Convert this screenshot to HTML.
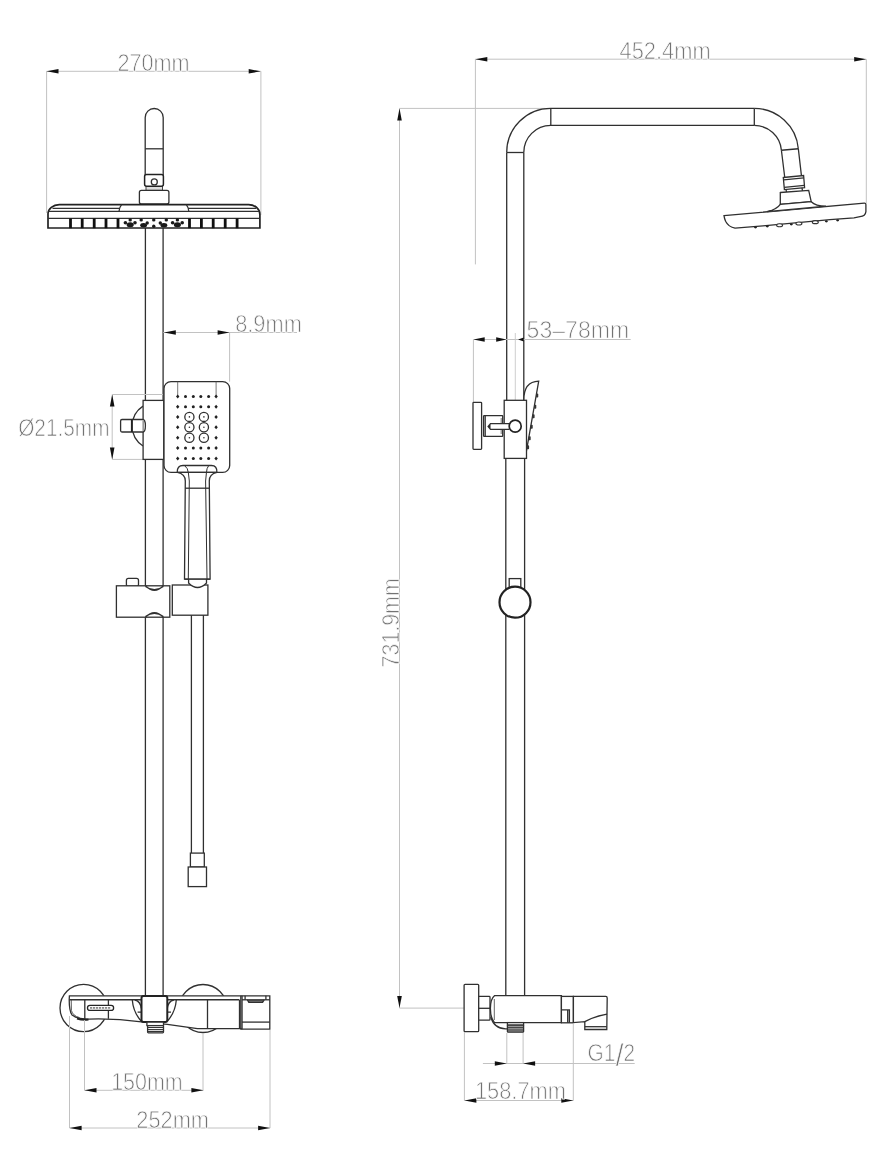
<!DOCTYPE html>
<html><head><meta charset="utf-8"><title>Shower system dimensions</title>
<style>html,body{margin:0;padding:0;background:#fff;} svg{display:block;}</style></head>
<body><svg width="896" height="1152" viewBox="0 0 896 1152" shape-rendering="geometricPrecision">
<rect width="896" height="1152" fill="#fff"/>
<line x1="46.6" y1="71.3" x2="46.6" y2="213" stroke="#c2c2c2" stroke-width="1" fill="none"/>
<line x1="260.9" y1="71.3" x2="260.9" y2="215" stroke="#c2c2c2" stroke-width="1" fill="none"/>
<line x1="46.5" y1="71.3" x2="260.7" y2="71.3" stroke="#c2c2c2" stroke-width="1" fill="none"/>
<polygon points="46.50,71.30 58.50,69.00 58.50,73.60" fill="#111"/>
<polygon points="260.70,71.30 248.70,69.00 248.70,73.60" fill="#111"/>
<text x="117.4" y="70.5" textLength="72.2" lengthAdjust="spacingAndGlyphs" style="filter:grayscale(1)" font-family="Liberation Sans, sans-serif" font-size="23" fill="#737373" stroke="#fff" stroke-width="0.75">270mm</text>
<line x1="145.4" y1="228" x2="145.4" y2="996" stroke="#303030" stroke-width="1.3" fill="none"/>
<line x1="163.1" y1="228" x2="163.1" y2="996" stroke="#303030" stroke-width="1.3" fill="none"/>
<path d="M145.2,175 L145.2,117.5 A9,9 0 0 1 163.2,117.5 L163.2,175" stroke="#303030" stroke-width="1.3" fill="#fff"/>
<line x1="145.2" y1="148.8" x2="163.2" y2="148.8" stroke="#303030" stroke-width="1.3" fill="none"/>
<rect x="146" y="185.5" width="16.5" height="4.9" rx="0" stroke="#444" stroke-width="1" fill="#ddd"/>
<rect x="144.6" y="174.6" width="18.8" height="11.6" rx="2" stroke="#222" stroke-width="1.5" fill="#fff"/>
<circle cx="154.3" cy="181.9" r="3" stroke="#303030" stroke-width="1.3" fill="#fff"/>
<rect x="139.4" y="190.3" width="29.5" height="13.7" rx="2" stroke="#303030" stroke-width="1.3" fill="#fff"/>
<path d="M48,228 L48,213.8 A11.3,9.2 0 0 1 59.3,204.6 L248.6,204.6 A11.3,9.8 0 0 1 259.9,214.4 L259.9,228 Z" stroke="#222" stroke-width="1.7" fill="#fff"/>
<path d="M52.5,208.3 L119.6,208.3 M121.6,204.6 Q119.5,207 119,211.3 M186.3,204.6 Q188.4,207 188.8,211.3 M188.5,208.3 L256.3,208.3" stroke="#303030" stroke-width="1.3" fill="none"/>
<line x1="48.6" y1="211.4" x2="259.5" y2="211.4" stroke="#303030" stroke-width="1.3" fill="none"/>
<line x1="48" y1="218.3" x2="259.9" y2="218.3" stroke="#303030" stroke-width="1.3" fill="none"/>
<rect x="69.1" y="218.5" width="2.8" height="9.7" fill="#111"/>
<rect x="80.8" y="218.5" width="2.8" height="9.7" fill="#111"/>
<rect x="92.8" y="218.5" width="2.8" height="9.7" fill="#111"/>
<rect x="104.6" y="218.5" width="2.8" height="9.7" fill="#111"/>
<rect x="116.6" y="218.5" width="2.8" height="9.7" fill="#111"/>
<rect x="188.1" y="218.5" width="2.8" height="9.7" fill="#111"/>
<rect x="200.0" y="218.5" width="2.8" height="9.7" fill="#111"/>
<rect x="211.79999999999998" y="218.5" width="2.8" height="9.7" fill="#111"/>
<rect x="223.79999999999998" y="218.5" width="2.8" height="9.7" fill="#111"/>
<rect x="235.7" y="218.5" width="2.8" height="9.7" fill="#111"/>
<circle cx="130.2" cy="219.9" r="1.7" fill="#1a1a1a" stroke="none"/>
<circle cx="125.39999999999999" cy="222.8" r="1.8" fill="#1a1a1a" stroke="none"/>
<circle cx="135.0" cy="222.8" r="1.8" fill="#1a1a1a" stroke="none"/>
<ellipse cx="130.2" cy="224.7" rx="3.6" ry="2.5" fill="#1a1a1a" stroke="none"/>
<circle cx="177.4" cy="219.9" r="1.7" fill="#1a1a1a" stroke="none"/>
<circle cx="172.6" cy="222.8" r="1.8" fill="#1a1a1a" stroke="none"/>
<circle cx="182.20000000000002" cy="222.8" r="1.8" fill="#1a1a1a" stroke="none"/>
<ellipse cx="177.4" cy="224.7" rx="3.6" ry="2.5" fill="#1a1a1a" stroke="none"/>
<circle cx="141.2" cy="219.9" r="1.7" fill="#1a1a1a" stroke="none"/>
<circle cx="147.2" cy="223" r="1.7" fill="#1a1a1a" stroke="none"/>
<ellipse cx="143.6" cy="225.2" rx="3.4" ry="2.2" fill="#1a1a1a" stroke="none"/>
<circle cx="166.3" cy="219.9" r="1.7" fill="#1a1a1a" stroke="none"/>
<circle cx="160.3" cy="223" r="1.7" fill="#1a1a1a" stroke="none"/>
<ellipse cx="163.9" cy="225.2" rx="3.4" ry="2.2" fill="#1a1a1a" stroke="none"/>
<circle cx="153.75" cy="219.9" r="1.7" fill="#1a1a1a" stroke="none"/>
<circle cx="153.75" cy="226.2" r="1.7" fill="#1a1a1a" stroke="none"/>
<line x1="163.3" y1="332.5" x2="297" y2="332.5" stroke="#c2c2c2" stroke-width="1" fill="none"/>
<polygon points="163.80,332.50 175.80,330.20 175.80,334.80" fill="#111"/>
<polygon points="229.60,332.50 217.60,330.20 217.60,334.80" fill="#111"/>
<line x1="229.6" y1="332.5" x2="229.6" y2="381.6" stroke="#c2c2c2" stroke-width="1" fill="none"/>
<text x="235.2" y="331.6" textLength="66.6" lengthAdjust="spacingAndGlyphs" style="filter:grayscale(1)" font-family="Liberation Sans, sans-serif" font-size="23" fill="#737373" stroke="#fff" stroke-width="0.75">8.9mm</text>
<line x1="112.2" y1="394.5" x2="112.2" y2="459.4" stroke="#c2c2c2" stroke-width="1" fill="none"/>
<polygon points="112.20,394.50 109.90,406.50 114.50,406.50" fill="#111"/>
<polygon points="112.20,459.40 109.90,447.40 114.50,447.40" fill="#111"/>
<line x1="112.2" y1="394.5" x2="163" y2="394.5" stroke="#c2c2c2" stroke-width="1" fill="none"/>
<line x1="112.2" y1="459.4" x2="143" y2="459.4" stroke="#c2c2c2" stroke-width="1" fill="none"/>
<text x="18.2" y="436.2" textLength="91.3" lengthAdjust="spacingAndGlyphs" style="filter:grayscale(1)" font-family="Liberation Sans, sans-serif" font-size="23" fill="#737373" stroke="#fff" stroke-width="0.75">Ø21.5mm</text>
<path d="M143,406.1 A23.8,23.8 0 0 0 143,446" stroke="#303030" stroke-width="1.3" fill="#fff"/>
<rect x="143.1" y="400.4" width="20.7" height="59.0" rx="0" stroke="#303030" stroke-width="1.3" fill="#fff"/>
<path d="M122,419.5 L142.8,419.5 Q145.4,419.5 145.4,425.75 Q145.4,432 142.8,432 L122,432 Q120.6,432 120.6,430.5 L120.6,421 Q120.6,419.5 122,419.5 Z" stroke="#303030" stroke-width="1.3" fill="#fff"/>
<rect x="130.9" y="419.5" width="2" height="12.5" fill="#222"/>
<line x1="143.2" y1="420.5" x2="143.2" y2="431" stroke="#999" stroke-width="1.6"/>
<rect x="164" y="381.6" width="65.7" height="90.8" rx="7" stroke="#303030" stroke-width="1.3" fill="#fff"/>
<line x1="177.7" y1="381.6" x2="177.7" y2="396.4" stroke="#555" stroke-width="0.8"/>
<line x1="216.1" y1="381.6" x2="216.1" y2="396.4" stroke="#555" stroke-width="0.8"/>
<path d="M177.7,394.4 L179.39999999999998,396.4 L177.7,398.4 L176.0,396.4 Z" fill="#222"/>
<circle cx="185.5" cy="396.4" r="1.5" fill="#222" stroke="none"/>
<circle cx="193.3" cy="396.4" r="1.5" fill="#222" stroke="none"/>
<circle cx="200.8" cy="396.4" r="1.5" fill="#222" stroke="none"/>
<circle cx="208.6" cy="396.4" r="1.5" fill="#222" stroke="none"/>
<path d="M216.1,394.4 L217.79999999999998,396.4 L216.1,398.4 L214.4,396.4 Z" fill="#222"/>
<path d="M177.7,404.7 L179.39999999999998,406.7 L177.7,408.7 L176.0,406.7 Z" fill="#222"/>
<circle cx="185.5" cy="406.7" r="1.5" fill="#222" stroke="none"/>
<circle cx="193.3" cy="406.7" r="1.5" fill="#222" stroke="none"/>
<circle cx="200.8" cy="406.7" r="1.5" fill="#222" stroke="none"/>
<circle cx="208.6" cy="406.7" r="1.5" fill="#222" stroke="none"/>
<path d="M216.1,404.7 L217.79999999999998,406.7 L216.1,408.7 L214.4,406.7 Z" fill="#222"/>
<path d="M177.7,414.9 L179.39999999999998,416.9 L177.7,418.9 L176.0,416.9 Z" fill="#222"/>
<path d="M216.1,414.9 L217.79999999999998,416.9 L216.1,418.9 L214.4,416.9 Z" fill="#222"/>
<path d="M177.7,425.3 L179.39999999999998,427.3 L177.7,429.3 L176.0,427.3 Z" fill="#222"/>
<path d="M216.1,425.3 L217.79999999999998,427.3 L216.1,429.3 L214.4,427.3 Z" fill="#222"/>
<path d="M177.7,435.8 L179.39999999999998,437.8 L177.7,439.8 L176.0,437.8 Z" fill="#222"/>
<path d="M216.1,435.8 L217.79999999999998,437.8 L216.1,439.8 L214.4,437.8 Z" fill="#222"/>
<path d="M177.7,446 L179.39999999999998,448 L177.7,450 L176.0,448 Z" fill="#222"/>
<circle cx="185.5" cy="448" r="1.5" fill="#222" stroke="none"/>
<circle cx="193.3" cy="448" r="1.5" fill="#222" stroke="none"/>
<circle cx="200.8" cy="448" r="1.5" fill="#222" stroke="none"/>
<circle cx="208.6" cy="448" r="1.5" fill="#222" stroke="none"/>
<path d="M216.1,446 L217.79999999999998,448 L216.1,450 L214.4,448 Z" fill="#222"/>
<path d="M177.7,456.6 L179.39999999999998,458.6 L177.7,460.6 L176.0,458.6 Z" fill="#222"/>
<circle cx="185.5" cy="458.6" r="1.5" fill="#222" stroke="none"/>
<circle cx="193.3" cy="458.6" r="1.5" fill="#222" stroke="none"/>
<circle cx="200.8" cy="458.6" r="1.5" fill="#222" stroke="none"/>
<circle cx="208.6" cy="458.6" r="1.5" fill="#222" stroke="none"/>
<path d="M216.1,456.6 L217.79999999999998,458.6 L216.1,460.6 L214.4,458.6 Z" fill="#222"/>
<circle cx="189.4" cy="416.9" r="4.6" stroke="#303030" stroke-width="1.3" fill="none"/>
<circle cx="189.4" cy="416.9" r="0.8" fill="#333" stroke="none"/>
<circle cx="203.9" cy="416.9" r="4.6" stroke="#303030" stroke-width="1.3" fill="none"/>
<circle cx="203.9" cy="416.9" r="0.8" fill="#333" stroke="none"/>
<circle cx="189.4" cy="427.3" r="4.6" stroke="#303030" stroke-width="1.3" fill="none"/>
<circle cx="189.4" cy="427.3" r="0.8" fill="#333" stroke="none"/>
<circle cx="203.9" cy="427.3" r="4.6" stroke="#303030" stroke-width="1.3" fill="none"/>
<circle cx="203.9" cy="427.3" r="0.8" fill="#333" stroke="none"/>
<circle cx="189.4" cy="437.8" r="4.6" stroke="#303030" stroke-width="1.3" fill="none"/>
<circle cx="189.4" cy="437.8" r="0.8" fill="#333" stroke="none"/>
<circle cx="203.9" cy="437.8" r="4.6" stroke="#303030" stroke-width="1.3" fill="none"/>
<circle cx="203.9" cy="437.8" r="0.8" fill="#333" stroke="none"/>
<path d="M177.5,472.4 Q185.3,474 185.3,481 L184.5,579.2 L210.1,579.2 L209.3,481 Q209.3,474 216.9,472.4" stroke="#303030" stroke-width="1.3" fill="#fff"/>
<path d="M177.2,472.4 Q177,465.5 183,465.5 L211.5,465.5 Q217.2,465.5 216.9,472.4" stroke="#303030" stroke-width="1.3" fill="none"/>
<path d="M184.6,465.6 Q188,468 188.4,473 L189.3,481 L188.3,579 M208.7,465.6 Q206.6,468 206.4,473 L205.6,481 L207,579" stroke="#303030" stroke-width="1" fill="none"/>
<line x1="185.2" y1="488.2" x2="209.4" y2="488.2" stroke="#303030" stroke-width="1.3" fill="none"/>
<line x1="177.5" y1="472.4" x2="216.9" y2="472.4" stroke="#303030" stroke-width="1.3" fill="none"/>
<rect x="126.4" y="578.4" width="12.1" height="8.1" rx="2" stroke="#303030" stroke-width="1.3" fill="#fff"/>
<rect x="116.4" y="585.8" width="53.4" height="31.4" rx="0" stroke="#303030" stroke-width="1.3" fill="#fff"/>
<rect x="172.3" y="585" width="35.6" height="30.2" rx="0" stroke="#303030" stroke-width="1.3" fill="#fff"/>
<path d="M188.6,579.2 L188.6,583 Q197.5,592 206.5,583 L206.5,579.2" stroke="#303030" stroke-width="1.3" fill="#fff"/>
<line x1="184.5" y1="579.2" x2="210.1" y2="579.2" stroke="#303030" stroke-width="1.3" fill="none"/>
<path d="M145.5,585.8 Q154.4,595 163.3,585.8 M145.5,586.5 Q154.4,593 163.3,586.5" stroke="#303030" stroke-width="1.3" fill="none"/>
<path d="M145.5,617.2 Q154.4,608 163.3,617.2 M145.5,616.5 Q154.4,610 163.3,616.5" stroke="#303030" stroke-width="1.3" fill="none"/>
<line x1="191.4" y1="615.2" x2="191.4" y2="853.1" stroke="#303030" stroke-width="1.3" fill="none"/>
<line x1="203.4" y1="615.2" x2="203.4" y2="853.1" stroke="#303030" stroke-width="1.3" fill="none"/>
<rect x="190.4" y="853.1" width="13.9" height="13.9" rx="0" stroke="#303030" stroke-width="1.3" fill="#fff"/>
<rect x="188.2" y="867" width="18.3" height="19.6" rx="0" stroke="#303030" stroke-width="1.3" fill="#fff"/>
<circle cx="83.6" cy="1008" r="23.6" stroke="#303030" stroke-width="1.3" fill="#fff"/>
<circle cx="203" cy="1008.5" r="24" stroke="#303030" stroke-width="1.3" fill="#fff"/>
<path d="M69.4,995.8 L269.8,995.8 L269.8,1029.2 L241,1029.2 L241,1028.6 L197.5,1028.6 L167.3,1024.4 L141.5,1021.8 Q115,1018.3 88.8,1019.1 Q78,1019.5 72,1015 Q69.2,1011 69.2,999.4 Z" stroke="#303030" stroke-width="1.3" fill="#fff"/>
<path d="M71.2,999.6 L71.4,1010.5 Q72.8,1015.8 79.5,1017.6" stroke="#444" stroke-width="0.9" fill="none"/>
<path d="M77,1018.6 Q82,1020.2 88.5,1019.6" stroke="#222" stroke-width="2" fill="none"/>
<line x1="69.2" y1="999.8" x2="141.5" y2="999.8" stroke="#303030" stroke-width="1.5"/>
<line x1="167.3" y1="999.8" x2="239.3" y2="999.8" stroke="#303030" stroke-width="1.5"/>
<line x1="84.8" y1="999.8" x2="84.8" y2="1019.2" stroke="#303030" stroke-width="1.3" fill="none"/>
<line x1="108.4" y1="999.8" x2="108.4" y2="1018.8" stroke="#303030" stroke-width="1.3" fill="none"/>
<rect x="87.5" y="1005.3" width="26.1" height="5.1" rx="2.5" stroke="#252525" stroke-width="1.3" fill="#fff"/>
<line x1="90" y1="1007.9" x2="111" y2="1007.9" stroke="#888" stroke-width="1.8" stroke-dasharray="2.2,0.8"/>
<line x1="207.5" y1="999.8" x2="207.5" y2="1028.6" stroke="#303030" stroke-width="1.3" fill="none"/>
<line x1="239.5" y1="999.8" x2="239.5" y2="1028.6" stroke="#303030" stroke-width="1.3" fill="none"/>
<line x1="240.8" y1="995.8" x2="240.8" y2="1029.2" stroke="#303030" stroke-width="1.3" fill="none"/>
<line x1="242.05" y1="995.8" x2="242.05" y2="1029.2" stroke="#303030" stroke-width="1.3" fill="none"/>
<line x1="242" y1="1022.1" x2="269.8" y2="1022.1" stroke="#303030" stroke-width="1.3" fill="none"/>
<path d="M247.3,999.8 L248.8,1002.4 L262.6,1002.4 L264.2,999.8 M248.5,1000.9 L262.9,1000.9" stroke="#303030" stroke-width="1.3" fill="none"/>
<line x1="242" y1="999.8" x2="269.8" y2="999.8" stroke="#303030" stroke-width="1.3" fill="none"/>
<line x1="245.1" y1="995.8" x2="245.1" y2="999.8" stroke="#303030" stroke-width="1.3" fill="none"/>
<line x1="265.9" y1="995.8" x2="265.9" y2="999.8" stroke="#303030" stroke-width="1.3" fill="none"/>
<path d="M132.3,1000 Q133.2,1012 141.1,1021 M134.8,1000 Q140.3,1001 141.3,1008.5 M137.6,1012.1 L141.3,1012.1" stroke="#303030" stroke-width="1.3" fill="none"/>
<path d="M176.3,1000 Q175.4,1012 167.5,1021 M173.8,1000 Q168.3,1001 167.3,1008.5 M171,1012.1 L167.3,1012.1" stroke="#303030" stroke-width="1.3" fill="none"/>
<rect x="141.5" y="995.9" width="25.8" height="26.2" rx="2" stroke="#222" stroke-width="2" fill="#fff"/>
<rect x="146.9" y="1022.1" width="16.6" height="3.5" rx="0" stroke="#303030" stroke-width="1.3" fill="#fff"/>
<rect x="147.6" y="1025.6" width="15.9" height="7.2" rx="0.8" stroke="#303030" stroke-width="1.3" fill="#fff"/>
<line x1="147.6" y1="1027.5" x2="163.5" y2="1027.5" stroke="#333" stroke-width="1.1"/>
<line x1="147.6" y1="1029.6" x2="163.5" y2="1029.6" stroke="#333" stroke-width="1.1"/>
<line x1="147.6" y1="1031.5" x2="163.5" y2="1031.5" stroke="#333" stroke-width="1.1"/>
<line x1="69.5" y1="1016" x2="69.5" y2="1128" stroke="#c2c2c2" stroke-width="1" fill="none"/>
<line x1="84.5" y1="1020" x2="84.5" y2="1090.3" stroke="#c2c2c2" stroke-width="1" fill="none"/>
<line x1="203" y1="1033" x2="203" y2="1090.3" stroke="#c2c2c2" stroke-width="1" fill="none"/>
<line x1="270" y1="1030" x2="270" y2="1128" stroke="#c2c2c2" stroke-width="1" fill="none"/>
<line x1="84.5" y1="1090.3" x2="203.4" y2="1090.3" stroke="#c2c2c2" stroke-width="1" fill="none"/>
<polygon points="84.50,1090.30 96.50,1088.00 96.50,1092.60" fill="#111"/>
<polygon points="203.40,1090.30 191.40,1088.00 191.40,1092.60" fill="#111"/>
<text x="111.2" y="1090" textLength="71.5" lengthAdjust="spacingAndGlyphs" style="filter:grayscale(1)" font-family="Liberation Sans, sans-serif" font-size="23" fill="#737373" stroke="#fff" stroke-width="0.75">150mm</text>
<line x1="69.6" y1="1128" x2="270.1" y2="1128" stroke="#c2c2c2" stroke-width="1" fill="none"/>
<polygon points="69.60,1128.00 81.60,1125.70 81.60,1130.30" fill="#111"/>
<polygon points="270.10,1128.00 258.10,1125.70 258.10,1130.30" fill="#111"/>
<text x="136.3" y="1128" textLength="72.7" lengthAdjust="spacingAndGlyphs" style="filter:grayscale(1)" font-family="Liberation Sans, sans-serif" font-size="23" fill="#737373" stroke="#fff" stroke-width="0.75">252mm</text>
<line x1="475.3" y1="59.2" x2="866.2" y2="59.2" stroke="#c2c2c2" stroke-width="1" fill="none"/>
<polygon points="475.30,59.20 487.30,56.90 487.30,61.50" fill="#111"/>
<polygon points="866.20,59.20 854.20,56.90 854.20,61.50" fill="#111"/>
<line x1="475.4" y1="59.2" x2="475.4" y2="264.4" stroke="#c2c2c2" stroke-width="1" fill="none"/>
<line x1="866.3" y1="59.2" x2="866.3" y2="203.5" stroke="#c2c2c2" stroke-width="1" fill="none"/>
<text x="619.5" y="58.5" textLength="91.1" lengthAdjust="spacingAndGlyphs" style="filter:grayscale(1)" font-family="Liberation Sans, sans-serif" font-size="23" fill="#737373" stroke="#fff" stroke-width="0.75">452.4mm</text>
<line x1="399.5" y1="108.4" x2="399.5" y2="1008.1" stroke="#c2c2c2" stroke-width="1" fill="none"/>
<polygon points="399.50,108.40 397.20,120.40 401.80,120.40" fill="#111"/>
<polygon points="399.50,1008.10 397.20,996.10 401.80,996.10" fill="#111"/>
<line x1="399.5" y1="108.4" x2="545" y2="108.4" stroke="#c2c2c2" stroke-width="1" fill="none"/>
<line x1="399.5" y1="1008.1" x2="463.9" y2="1008.1" stroke="#c2c2c2" stroke-width="1" fill="none"/>
<text x="0" y="0" transform="translate(398.8,667.4) rotate(-90)" textLength="89.1" lengthAdjust="spacingAndGlyphs" style="filter:grayscale(1)" font-family="Liberation Sans, sans-serif" font-size="23" fill="#737373" stroke="#fff" stroke-width="0.75">731.9mm</text>
<line x1="506.7" y1="152.5" x2="506.7" y2="401" stroke="#303030" stroke-width="1.3" fill="none"/>
<line x1="523.8" y1="152.5" x2="523.8" y2="401" stroke="#303030" stroke-width="1.3" fill="none"/>
<line x1="505.8" y1="458" x2="505.8" y2="995.6" stroke="#303030" stroke-width="1.3" fill="none"/>
<line x1="524.6" y1="458" x2="524.6" y2="995.6" stroke="#303030" stroke-width="1.3" fill="none"/>
<path d="M506.7,152.5 A44.1,44.1 0 0 1 550.8,108.4 L754.3,108.4" stroke="#303030" stroke-width="1.3" fill="none"/>
<path d="M523.8,152.5 A27,27 0 0 1 550.8,125.4 L754.3,125.4" stroke="#303030" stroke-width="1.3" fill="none"/>
<line x1="506.7" y1="152.5" x2="523.8" y2="152.5" stroke="#303030" stroke-width="1.3" fill="none"/>
<line x1="550.8" y1="108.4" x2="550.8" y2="125.4" stroke="#303030" stroke-width="1.3" fill="none"/>
<line x1="754.3" y1="108.4" x2="754.3" y2="125.4" stroke="#303030" stroke-width="1.3" fill="none"/>
<path d="M754.3,108.4 A44.2,44.2 0 0 1 798.33,148.75" stroke="#303030" stroke-width="1.3" fill="none"/>
<path d="M754.3,125.4 A27.2,27.2 0 0 1 781.40,150.23" stroke="#303030" stroke-width="1.3" fill="none"/>
<line x1="781.4" y1="150.23" x2="798.33" y2="148.75" stroke="#303030" stroke-width="1.3" fill="none"/>
<path d="M781.40,150.23 L784.7,177 M798.33,148.75 L801.4,175.4" stroke="#303030" stroke-width="1.3" fill="none"/>
<path d="M783.3,177.5 L803.6,175.5 L804.6,187.6 L784.4,189.6 Z" stroke="#303030" stroke-width="1.3" fill="#fff"/>
<line x1="783.6" y1="179.8" x2="803.8" y2="177.8" stroke="#303030" stroke-width="1.3" fill="none"/>
<line x1="784.2" y1="187.3" x2="804.4" y2="185.3" stroke="#303030" stroke-width="1.3" fill="none"/>
<path d="M786,189.4 L786.5,192.2 M802,187.8 L802.5,191" stroke="#303030" stroke-width="1.3" fill="none"/>
<path d="M780.3,192.5 L808.7,190.4 L811.2,201.7 L780.3,204.3 Z" stroke="#303030" stroke-width="1.3" fill="#fff"/>
<path d="M724,215.6 L864.3,203.2 Q866,203.1 865.9,205 L865.9,211.6 Q865.4,216.2 860,216.6 L854,217.9 L830,219.6 L763,225.9 L735.1,228.1 Q728.5,227 725.6,221.2 Q724.3,218.2 724,215.6 Z" stroke="#303030" stroke-width="1.3" fill="#fff"/>
<path d="M767,211.7 Q776.5,209.6 780.3,204.3 L811.2,201.7 Q815.5,206 826,206.2 Z" stroke="#303030" stroke-width="1.3" fill="#fff"/>
<ellipse cx="755.5" cy="227.35" rx="1.5" ry="1.1" fill="#222"/>
<ellipse cx="767.3" cy="226.34" rx="1.5" ry="1.1" fill="#222"/>
<ellipse cx="791.3" cy="224.28" rx="1.5" ry="1.1" fill="#222"/>
<ellipse cx="826.4" cy="221.28" rx="1.5" ry="1.1" fill="#222"/>
<ellipse cx="837.6" cy="220.32" rx="1.5" ry="1.1" fill="#222"/>
<ellipse cx="779.6" cy="225.19" rx="3" ry="1.5" fill="#fff" stroke="#333" stroke-width="1.1"/>
<ellipse cx="798.9" cy="223.53" rx="3" ry="1.5" fill="#fff" stroke="#333" stroke-width="1.1"/>
<ellipse cx="815.3" cy="222.13" rx="3" ry="1.5" fill="#fff" stroke="#333" stroke-width="1.1"/>
<line x1="473.4" y1="339.5" x2="630.7" y2="339.5" stroke="#c2c2c2" stroke-width="1" fill="none"/>
<polygon points="473.40,339.50 484.70,337.20 484.70,341.80" fill="#111"/>
<polygon points="506.50,339.50 496.20,337.20 496.20,341.80" fill="#111"/>
<polygon points="518.10,339.50 523.70,337.60 523.70,341.40" fill="#111"/>
<line x1="473.4" y1="339.5" x2="473.4" y2="402.3" stroke="#c2c2c2" stroke-width="1" fill="none"/>
<line x1="515.3" y1="333" x2="515.3" y2="419" stroke="#c8c8c8" stroke-width="0.9"/>
<text x="526.6" y="338.3" textLength="102.6" lengthAdjust="spacingAndGlyphs" style="filter:grayscale(1)" font-family="Liberation Sans, sans-serif" font-size="23" fill="#737373" stroke="#fff" stroke-width="0.75">53–78mm</text>
<path d="M523.9,400 C523.7,388 528.5,381.6 538.7,381.2 L525.3,457.4" stroke="#303030" stroke-width="1.3" fill="#fff"/>
<rect x="536.05" y="393.60" width="2.2" height="4" rx="0.8" fill="#333"/>
<rect x="534.08" y="404.70" width="2.2" height="4" rx="0.8" fill="#333"/>
<rect x="532.40" y="414.20" width="2.2" height="4" rx="0.8" fill="#333"/>
<rect x="530.52" y="424.80" width="2.2" height="4" rx="0.8" fill="#333"/>
<rect x="528.48" y="436.30" width="2.2" height="4" rx="0.8" fill="#333"/>
<rect x="526.89" y="445.30" width="2.2" height="4" rx="0.8" fill="#333"/>
<rect x="504.2" y="400.3" width="22.3" height="58.1" rx="0" stroke="#303030" stroke-width="1.3" fill="#fff"/>
<rect x="473" y="402.3" width="8.6" height="47.0" rx="0.8" stroke="#303030" stroke-width="1.3" fill="#fff"/>
<rect x="483.6" y="415.7" width="19.1" height="20.6" rx="0.6" stroke="#303030" stroke-width="1.3" fill="#fff"/>
<line x1="485.2" y1="415.7" x2="485.2" y2="436.3" stroke="#303030" stroke-width="1.3" fill="none"/>
<line x1="501.2" y1="418" x2="501.2" y2="434" stroke="#555" stroke-width="0.8"/>
<path d="M509.2,423.7 L490.5,423.7 L488.1,426.5 L490.5,429.3 L509.2,429.3" stroke="#303030" stroke-width="1.3" fill="#fff"/>
<path d="M488.1,426.5 L490.5,424.3 L490.5,428.7 Z" fill="#222"/>
<circle cx="515.2" cy="426.2" r="6" stroke="#222" stroke-width="1.7" fill="#fff"/>
<rect x="509.2" y="578.6" width="11.6" height="9.4" rx="0" stroke="#303030" stroke-width="1.3" fill="#fff"/>
<circle cx="515" cy="602.2" r="15.5" stroke="#222" stroke-width="2.2" fill="#fff"/>
<rect x="464.1" y="984.3" width="14.6" height="47.4" rx="1" stroke="#303030" stroke-width="1.3" fill="#fff"/>
<rect x="478.7" y="996.4" width="11.3" height="23.8" rx="0.8" stroke="#303030" stroke-width="1.3" fill="#fff"/>
<line x1="478.7" y1="1008.3" x2="490" y2="1008.3" stroke="#303030" stroke-width="1.3" fill="none"/>
<path d="M490.8,1017 Q494,1028.5 505.6,1028.8 L507.4,1028.8" stroke="#303030" stroke-width="1.3" fill="#fff"/>
<path d="M494.7,995.6 L561.4,995.6 L561.4,1022.6 L494.5,1022.6 Q490.4,1018 490.4,1008.5 Q490.4,999 494.7,995.6 Z" stroke="#303030" stroke-width="1.3" fill="#fff"/>
<line x1="494.3" y1="999" x2="494.3" y2="1020" stroke="#555" stroke-width="0.9"/>
<rect x="507.4" y="1022.6" width="16.2" height="2.6" rx="0" stroke="#303030" stroke-width="1.3" fill="#fff"/>
<rect x="507.4" y="1025.2" width="16.2" height="7.0" rx="0.8" stroke="#303030" stroke-width="1.3" fill="#999"/>
<line x1="507.4" y1="1027.6" x2="523.6" y2="1027.6" stroke="#333" stroke-width="0.9"/>
<line x1="507.4" y1="1030" x2="523.6" y2="1030" stroke="#333" stroke-width="0.9"/>
<rect x="561.4" y="996.4" width="12.0" height="26.4" rx="0" stroke="#303030" stroke-width="1.3" fill="#fff"/>
<path d="M561.4,1009.8 L569.4,1009.8 L569.4,1022.8 M567.7,1010.5 L567.7,1022.8" stroke="#303030" stroke-width="1.3" fill="none"/>
<path d="M573.4,996.4 L605.7,996.4 Q607.2,996.4 607.2,998 L606.8,1029.5 L584.8,1029.5 L584.8,1021.6 L573.4,1022.6 Z" stroke="#303030" stroke-width="1.3" fill="#fff"/>
<path d="M607,1014.1 Q595,1016.2 584.8,1021.6" stroke="#303030" stroke-width="1.3" fill="none"/>
<line x1="584.8" y1="1026.7" x2="606.8" y2="1026.7" stroke="#303030" stroke-width="1.3" fill="none"/>
<line x1="464.4" y1="1032" x2="464.4" y2="1100.5" stroke="#c2c2c2" stroke-width="1" fill="none"/>
<line x1="573.3" y1="1023" x2="573.3" y2="1100.5" stroke="#c2c2c2" stroke-width="1" fill="none"/>
<line x1="506.8" y1="1033" x2="506.8" y2="1063.5" stroke="#c2c2c2" stroke-width="1" fill="none"/>
<line x1="523.1" y1="1033" x2="523.1" y2="1063.5" stroke="#c2c2c2" stroke-width="1" fill="none"/>
<line x1="482.9" y1="1063.5" x2="634.7" y2="1063.5" stroke="#c2c2c2" stroke-width="1" fill="none"/>
<polygon points="506.80,1063.50 494.80,1061.20 494.80,1065.80" fill="#111"/>
<polygon points="523.10,1063.50 535.10,1061.20 535.10,1065.80" fill="#111"/>
<text x="587.6" y="1061.3" textLength="47.5" lengthAdjust="spacingAndGlyphs" style="filter:grayscale(1)" font-family="Liberation Sans, sans-serif" font-size="23" fill="#737373" stroke="#fff" stroke-width="0.75">G1<tspan font-size="31" dy="4.2" dx="0.5">/</tspan><tspan dy="-4.2" dx="0">2</tspan></text>
<line x1="464.4" y1="1100.5" x2="573.3" y2="1100.5" stroke="#c2c2c2" stroke-width="1" fill="none"/>
<polygon points="464.40,1100.50 476.40,1098.20 476.40,1102.80" fill="#111"/>
<polygon points="573.30,1100.50 561.30,1098.20 561.30,1102.80" fill="#111"/>
<text x="474.9" y="1099.4" textLength="91.1" lengthAdjust="spacingAndGlyphs" style="filter:grayscale(1)" font-family="Liberation Sans, sans-serif" font-size="23" fill="#737373" stroke="#fff" stroke-width="0.75">158.7mm</text>
</svg></body></html>
